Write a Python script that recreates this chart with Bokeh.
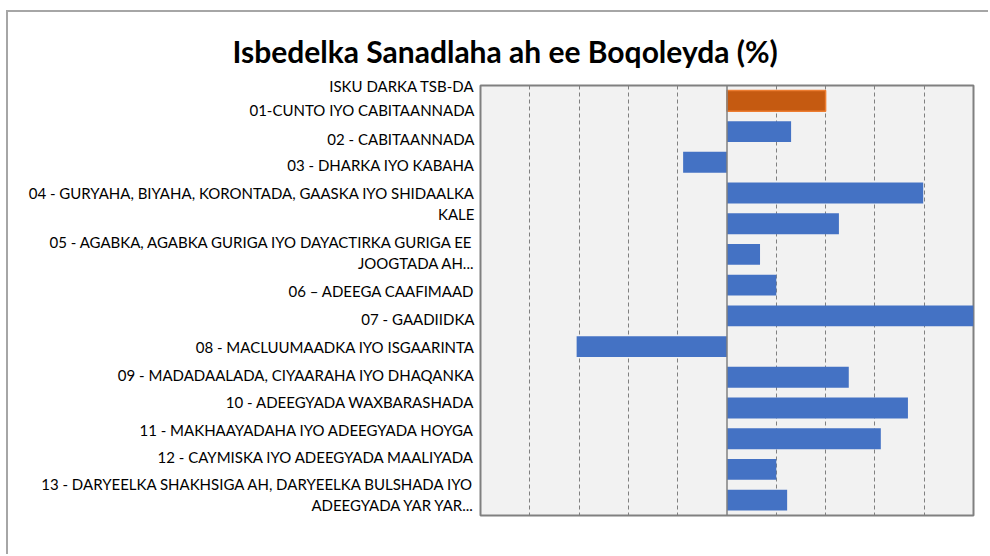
from bokeh.plotting import figure
from bokeh.models import FixedTicker, Span, Range1d, CustomJSTickFormatter
from bokeh.embed import file_html
from bokeh.resources import INLINE

title_text = "Isbedelka Sanadlaha ah ee Boqoleyda (%)"

categories = [
    "ISKU DARKA TSB-DA",
    "01-CUNTO IYO CABITAANNADA",
    "02 - CABITAANNADA",
    "03 - DHARKA IYO KABAHA",
    "04 - GURYAHA, BIYAHA, KORONTADA, GAASKA IYO SHIDAALKA\nKALE",
    "05 - AGABKA, AGABKA GURIGA IYO DAYACTIRKA GURIGA EE\nJOOGTADA AH...",
    "06 \u2013 ADEEGA CAAFIMAAD",
    "07 - GAADIIDKA",
    "08 - MACLUUMAADKA IYO ISGAARINTA",
    "09 - MADADAALADA, CIYAARAHA IYO DHAQANKA",
    "10 - ADEEGYADA WAXBARASHADA",
    "11 - MAKHAAYADAHA IYO ADEEGYADA HOYGA",
    "12 - CAYMISKA IYO ADEEGYADA MAALIYADA",
    "13 - DARYEELKA SHAKHSIGA AH, DARYEELKA BULSHADA IYO\nADEEGYADA YAR YAR...",
]
values = [2.0, 1.30, -0.89, 3.98, 2.27, 0.67, 1.0, 5.05, -3.05, 2.47, 3.67, 3.12, 1.0, 1.22]

# layout: where each category label sits (in bar-slot units), as in the source picture
label_pos = [-0.49, 0.31, 1.23, 2.10, 3.34, 4.94, 6.18, 7.09, 8.0, 8.91, 9.79, 10.70, 11.61, 12.82]

idx = list(range(len(categories)))
colors = ["#C55A11"] + ["#4472C4"] * (len(categories) - 1)
lines = ["#ED7D31"] + ["#4472C4"] * (len(categories) - 1)
lwidths = [1.5] + [0] * (len(categories) - 1)

p = figure(width=982, height=544, output_backend="svg", toolbar_location=None,
           x_range=Range1d(-5, 5), y_range=Range1d(len(categories) - 0.5, -0.5),
           min_border_left=472, min_border_right=17, min_border_top=73, min_border_bottom=41)

p.hbar(y=idx, left=0, right=values, height=0.68, fill_color=colors,
       line_color=lines, line_width=lwidths)

p.background_fill_color = "#F2F2F2"
p.border_fill_color = "white"
p.outline_line_color = "#808080"
p.outline_line_width = 2

p.xaxis.visible = False
p.ygrid.visible = False
p.xgrid.ticker = FixedTicker(ticks=[-4, -3, -2, -1, 1, 2, 3, 4])
p.xgrid.grid_line_color = "#808080"
p.xgrid.grid_line_dash = "4 3"
p.xgrid.grid_line_width = 1

zero = Span(location=0, dimension="height", line_color="#808080", line_width=1.5)
p.add_layout(zero)

ax = p.yaxis[0]
ax.ticker = FixedTicker(ticks=label_pos)
ax.formatter = CustomJSTickFormatter(args=dict(labels=categories), code="return labels[index];")
ax.axis_line_color = None
ax.major_tick_line_color = None
ax.minor_tick_line_color = None
ax.major_label_standoff = 0
ax.major_label_text_font = "Lato"
ax.major_label_text_font_size = "15px"
ax.major_label_text_color = "#000000"

p.title.text = title_text
p.title.text_font = "Lato"
p.title.text_font_size = "30px"
p.title.text_font_style = "bold"
p.title.text_color = "#000000"
p.title.align = "left"
p.title.offset = -248
p.title.standoff = 33

p.styles = {"margin-left": "6px", "margin-top": "10px",
            "border-left": "2px solid #A6A6A6", "border-top": "2px solid #A6A6A6"}

open("out.html", "w").write(file_html(p, INLINE))
